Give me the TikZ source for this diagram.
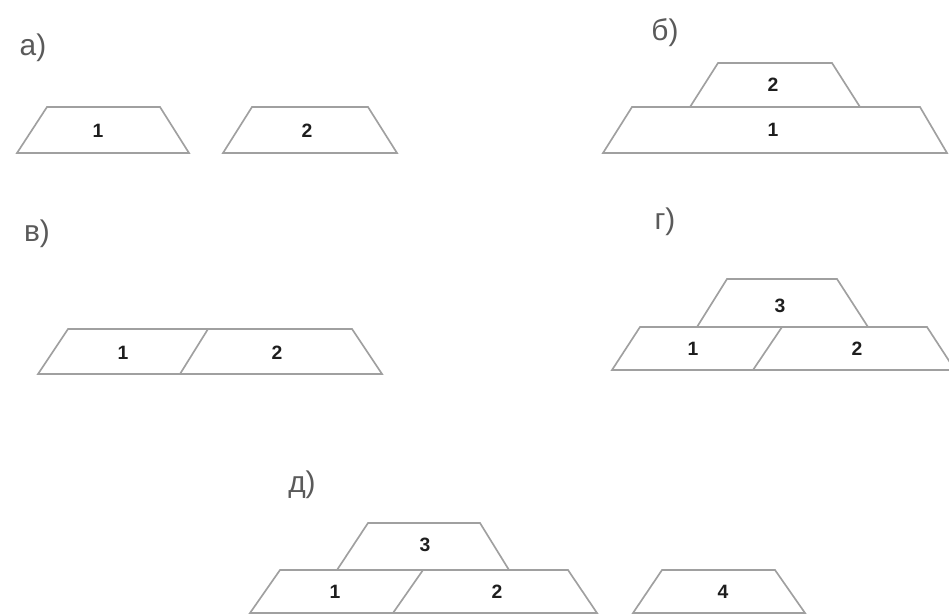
\documentclass[tikz,border=0pt]{standalone}
\usepackage{fontspec}
\setmainfont{Liberation Sans}
\usepackage{xcolor}
\definecolor{PartLine}{HTML}{A0A0A0}
\definecolor{PartText}{HTML}{1E1E1E}
\definecolor{CaseText}{HTML}{5A5A5A}
\tikzset{
  part/.style={PartLine,line width=.95pt,line join=miter},
  partnum/.style={text=PartText,font=\fontsize{11}{12}\selectfont\bfseries,inner sep=0pt},
  caselabel/.style={text=CaseText,font=\fontsize{17}{19}\selectfont,inner sep=0pt}
}
\begin{document}
\begin{tikzpicture}[x=0.02cm,y=-0.02cm]
\path[use as bounding box] (0,0) rectangle (949,615);
\clip (0,0) rectangle (949,615);
% а)
\node[caselabel] (la) at (33,48) {а)};
\draw[part] (17,153) -- (47,107) -- (160,107) -- (189,153) -- cycle;
\node[partnum] (a1) at (98,131) {1};
\draw[part] (223,153) -- (252,107) -- (368,107) -- (397,153) -- cycle;
\node[partnum] (a2) at (307,131) {2};
% б)
\node[caselabel] (lb) at (665,33) {б)};
\draw[part] (603,153) -- (632,107) -- (920,107) -- (947,153) -- cycle;
\draw[part] (690,107) -- (718,63) -- (832,63) -- (860,107);
\node[partnum] (b2) at (773,85) {2};
\node[partnum] (b1) at (773,130) {1};
% в)
\node[caselabel] (lv) at (37,234) {в)};
\draw[part] (38,374) -- (68,329) -- (352,329) -- (382,374) -- cycle;
\draw[part] (208,329) -- (180,374);
\node[partnum] (v1) at (123,353) {1};
\node[partnum] (v2) at (277,353) {2};
% г)
\node[caselabel] (lg) at (665,222) {г)};
\draw[part] (612,370) -- (640,327) -- (927,327) -- (955,370) -- cycle;
\draw[part] (782,327) -- (753,370);
\draw[part] (697,327) -- (727,279) -- (837,279) -- (868,327);
\node[partnum] (g3) at (780,306) {3};
\node[partnum] (g1) at (693,349) {1};
\node[partnum] (g2) at (857,349) {2};
% д)
\node[caselabel] (ld) at (302,485) {д)};
\draw[part] (250,613) -- (280,570) -- (568,570) -- (597,613) -- cycle;
\draw[part] (423,570) -- (393,613);
\draw[part] (337,570) -- (368,523) -- (480,523) -- (509,570);
\draw[part] (633,613) -- (662,570) -- (775,570) -- (805,613) -- cycle;
\node[partnum] (d3) at (425,545) {3};
\node[partnum] (d1) at (335,592) {1};
\node[partnum] (d2) at (497,592) {2};
\node[partnum] (d4) at (723,592) {4};
\end{tikzpicture}
\end{document}
